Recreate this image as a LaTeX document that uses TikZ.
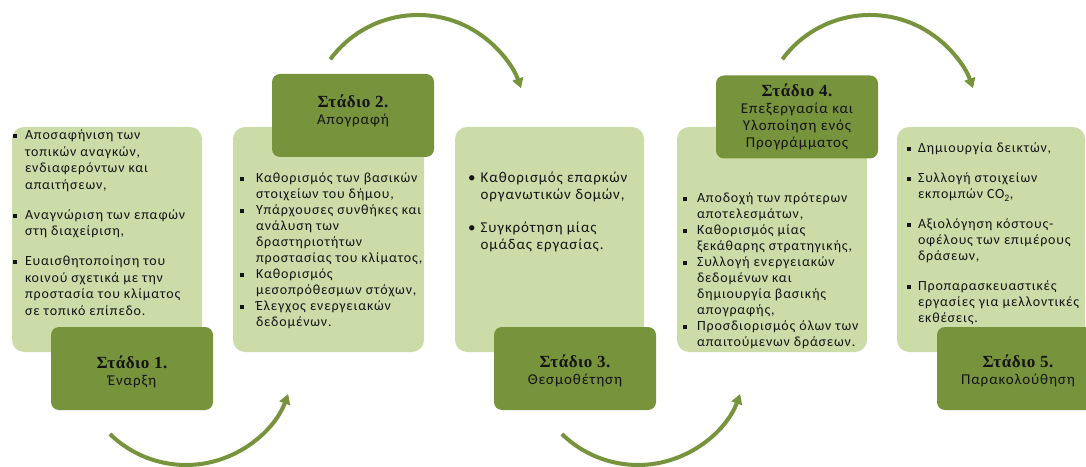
\documentclass[tikz,border=0pt]{standalone}
\usepackage{fontspec}
\setmainfont{Carlito}[LetterSpace=6]
\newfontfamily\headfont{Liberation Serif}[LetterSpace=3]
\usetikzlibrary{arrows.meta}
\definecolor{lightgr}{HTML}{CCDCA9}
\definecolor{darkgr}{HTML}{77933C}
\definecolor{txt}{HTML}{141414}
\newcommand{\bsq}{\rule[1.8pt]{3.8pt}{3.8pt}}
\newcommand{\hd}[1]{{\headfont\bfseries\fontsize{17}{18}\selectfont #1}}
\tikzset{
  panel/.style={fill=lightgr, draw=none, rounded corners=12pt, inner sep=0pt,
                minimum height=225pt},
  stagebox/.style={fill=darkgr, draw=none, rounded corners=8pt, inner sep=0pt,
                minimum width=162pt, minimum height=83pt},
  body/.style={anchor=base west, inner sep=0pt, text=txt},
  stagetext/.style={inner sep=0pt, align=center, text=txt,
                font=\fontsize{15}{17}\selectfont},
  cyc/.style={draw=darkgr, line width=4pt, -{Triangle[length=10pt,width=11pt]}}
}
\begin{document}
\begin{tikzpicture}[x=1pt,y=1pt]
\useasboundingbox (0,0) rectangle (1086,466);
\clip (0,0) rectangle (1086,466);
% panels
\node[panel, minimum width=190pt] (p1) at (107,226.5) {};
\node[panel, minimum width=191pt] (p2) at (328.5,226.5) {};
\node[panel, minimum width=189pt] (p3) at (549.5,226.5) {};
\node[panel, minimum width=190pt] (p4) at (772,226.5) {};
\node[panel, minimum width=188pt] (p5) at (991,226.5) {};
% panel texts
\node[body] (t1) at (13,326) {\fontsize{14}{16.5}\selectfont
\begin{tabular}[t]{@{}l@{\hspace{8pt}}l@{}}
\bsq & Αποσαφήνιση των\\
     & τοπικών αναγκών,\\
     & ενδιαφερόντων και\\
     & απαιτήσεων,\\[13.5pt]
\bsq & Αναγνώριση των επαφών\\
     & στη διαχείριση,\\[13.5pt]
\bsq & Ευαισθητοποίηση του\\
     & κοινού σχετικά με την\\
     & προστασία του κλίματος\\
     & σε τοπικό επίπεδο.
\end{tabular}};
\node[body] (t2) at (240,283) {\fontsize{14}{16}\selectfont
\begin{tabular}[t]{@{}l@{\hspace{12pt}}l@{}}
\bsq & Καθορισμός των βασικών\\
     & στοιχείων του δήμου,\\
\bsq & Υπάρχουσες συνθήκες και\\
     & ανάλυση των\\
     & δραστηριοτήτων\\
     & προστασίας του κλίματος,\\
\bsq & Καθορισμός\\
     & μεσοπρόθεσμων στόχων,\\
\bsq & Έλεγχος ενεργειακών\\
     & δεδομένων.
\end{tabular}};
\node[body] (t3) at (468,283) {\fontsize{15}{17}\selectfont
\begin{tabular}[t]{@{}l@{\hspace{5pt}}l@{}}
• & Καθορισμός επαρκών\\
  & οργανωτικών δομών,\\[16pt]
• & Συγκρότηση μίας\\
  & ομάδας εργασίας.
\end{tabular}};
\node[body] (t4) at (683,263) {\fontsize{14}{16}\selectfont
\begin{tabular}[t]{@{}l@{\hspace{10pt}}l@{}}
\bsq & Αποδοχή των πρότερων\\
     & αποτελεσμάτων,\\
\bsq & Καθορισμός μίας\\
     & ξεκάθαρης στρατηγικής,\\
\bsq & Συλλογή ενεργειακών\\
     & δεδομένων και\\
     & δημιουργία βασικής\\
     & απογραφής,\\
\bsq & Προσδιορισμός όλων των\\
     & απαιτούμενων δράσεων.
\end{tabular}};
\node[body] (t5) at (907,313) {\fontsize{14}{16}\selectfont
\begin{tabular}[t]{@{}l@{\hspace{7pt}}l@{}}
\bsq & Δημιουργία δεικτών,\\[14pt]
\bsq & Συλλογή στοιχείων\\
     & εκπομπών CO\textsubscript{2},\\[14pt]
\bsq & Αξιολόγηση κόστους-\\
     & οφέλους των επιμέρους\\
     & δράσεων,\\[14pt]
\bsq & Προπαρασκευαστικές\\
     & εργασίες για μελλοντικές\\
     & εκθέσεις.
\end{tabular}};
% stage boxes
\node[stagebox] (s1) at (132,97.5) {};
\node[stagebox] (s2) at (353,350.5) {};
\node[stagebox] (s3) at (575,97.5) {};
\node[stagebox] (s4) at (797,349) {};
\node[stagebox] (s5) at (1018,97.5) {};
\node[stagetext] (s1t) at ([yshift=-3pt]s1.center) {\hd{Στάδιο 1.}\\Έναρξη};
\node[stagetext] (s2t) at ([yshift=5pt]s2.center) {\hd{Στάδιο 2.}\\Απογραφή};
\node[stagetext] (s3t) at ([yshift=-2pt]s3.center) {\hd{Στάδιο 3.}\\Θεσμοθέτηση};
\node[stagetext] (s4t) at ([yshift=0pt]s4.center) {\hd{Στάδιο 4.}\\Επεξεργασία και\\Υλοποίηση ενός\\Προγράμματος};
\node[stagetext] (s5t) at ([yshift=-2pt]s5.center) {\hd{Στάδιο 5.}\\Παρακολούθηση};
% cycle arrows
\coordinate (a1) at (109.9,32);
\coordinate (a2) at (330.3,406.7);
\coordinate (a3) at (561.9,32);
\coordinate (a4) at (782.3,406.7);
\draw[cyc] (a1) arc[start angle=225.7, end angle=339.6, radius=109pt];
\draw[cyc] (a2) arc[start angle=143.6, end angle=19.1, radius=109pt];
\draw[cyc] (a3) arc[start angle=225.7, end angle=339.6, radius=109pt];
\draw[cyc] (a4) arc[start angle=143.6, end angle=19.1, radius=109pt];
\end{tikzpicture}
\end{document}
